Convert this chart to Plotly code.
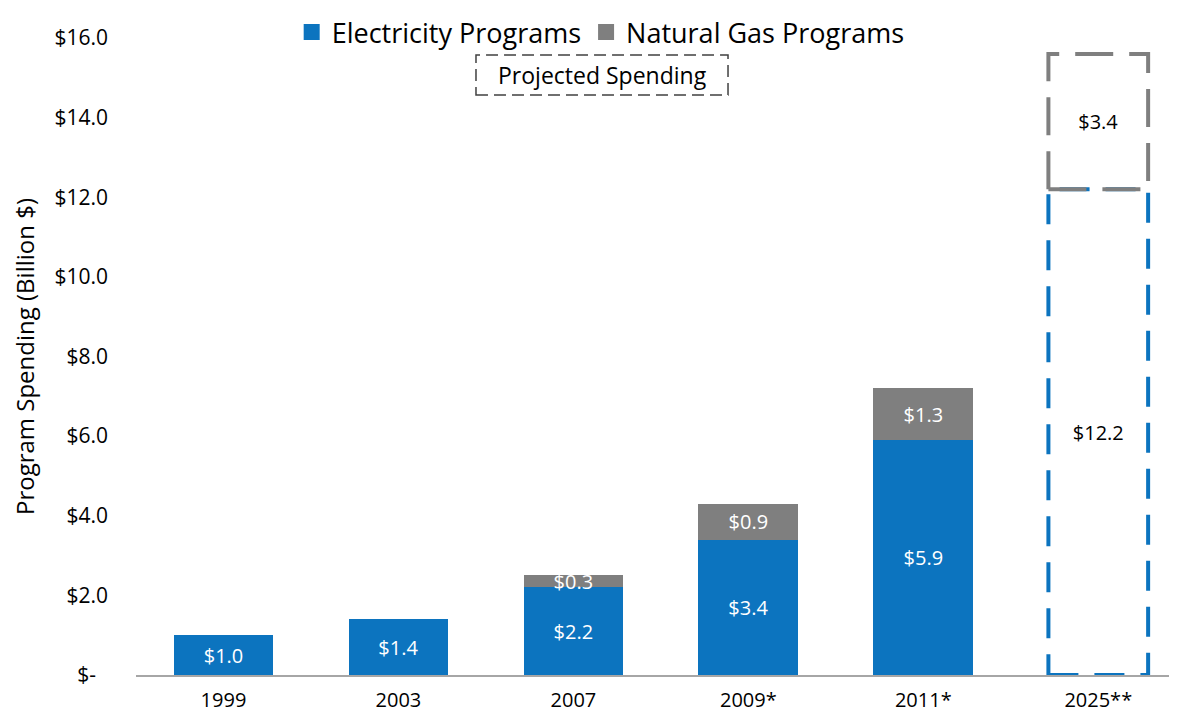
import plotly.graph_objects as go

categories = ["1999", "2003", "2007", "2009*", "2011*", "2025**"]
electricity = [1.0, 1.4, 2.2, 3.4, 5.9, 12.2]
natural_gas = [None, None, 0.3, 0.9, 1.3, 3.4]
projected = [False, False, False, False, False, True]
y_tick_vals = [0, 2, 4, 6, 8, 10, 12, 14, 16]
y_tick_text = ["$-<span style='color:rgba(0,0,0,0)'>0</span>", "$2.0", "$4.0", "$6.0",
               "$8.0", "$10.0", "$12.0", "$14.0", "$16.0"]

BLUE = "#0C74BF"
GRAY = "#7F7F7F"
FONT = "Open Sans"
BAR_W = 0.57

x = list(range(len(categories)))

def fill(color):
    return [("rgba(0,0,0,0)" if p else color) for p in projected]

def txtcol():
    return [("#000000" if p else "#FFFFFF") for p in projected]

def fmt(v):
    return "" if v is None else f"${v:.1f}"

fig = go.Figure()
fig.add_trace(go.Bar(
    x=x, y=electricity, name="Electricity Programs", width=BAR_W,
    marker=dict(color=fill(BLUE), line=dict(width=0)),
    text=[fmt(v) for v in electricity], textposition="inside",
    insidetextanchor="middle", constraintext="none",
    textfont=dict(color=txtcol(), size=20, family=FONT),
    hoverinfo="skip", showlegend=False,
))
fig.add_trace(go.Bar(
    x=x, y=natural_gas, name="Natural Gas Programs", width=BAR_W,
    marker=dict(color=fill(GRAY), line=dict(width=0)),
    text=[fmt(v) for v in natural_gas], textposition="inside",
    insidetextanchor="middle", constraintext="none",
    textfont=dict(color=txtcol(), size=20, family=FONT),
    hoverinfo="skip", showlegend=False,
))

# dashed outlines for projected bars, derived from the data
for i, p in enumerate(projected):
    if not p:
        continue
    e = electricity[i]
    g = natural_gas[i] or 0
    x0, x1 = i - BAR_W / 2, i + BAR_W / 2
    fig.add_trace(go.Scatter(
        x=[x0, x1, x1, x0, x0], y=[0, 0, e, e, 0], mode="lines",
        line=dict(color=BLUE, width=4, dash="30px,16px"),
        showlegend=False, hoverinfo="skip",
    ))
    fig.add_trace(go.Scatter(
        x=[x0, x1, x1, x0, x0], y=[e, e, e + g, e + g, e], mode="lines",
        line=dict(color=GRAY, width=4, dash="38px,16px"),
        showlegend=False, hoverinfo="skip",
    ))

# legend entries with larger square keys
for name, col in [("Electricity Programs", BLUE), ("Natural Gas Programs", GRAY)]:
    fig.add_trace(go.Scatter(
        x=[None], y=[None], mode="markers", name=name,
        marker=dict(symbol="square", size=16, color=col),
        showlegend=True, hoverinfo="skip",
    ))

# "Projected Spending" key box
bx0, bx1, by0, by1 = 0.3266, 0.5687, 0.9105, 0.9733
fig.add_shape(type="rect", xref="paper", yref="paper",
              x0=bx0, x1=bx1, y0=by0, y1=by1,
              line=dict(color="#404040", width=1.5, dash="12px,6px"))
fig.add_annotation(xref="paper", yref="paper", x=(bx0 + bx1) / 2,
                   y=(by0 + by1) / 2, xanchor="center", yanchor="middle",
                   text="Projected Spending", showarrow=False,
                   font=dict(size=23, color="#000000", family=FONT))

fig.update_layout(
    width=1169, height=707,
    margin=dict(l=128, r=0, t=30, b=40, autoexpand=False),
    paper_bgcolor="white", plot_bgcolor="white",
    barmode="stack",
    font=dict(family=FONT, color="#000000"),
    showlegend=True,
    legend=dict(orientation="h", xref="container", yref="container",
                x=0.507, xanchor="center", y=1.0, yanchor="top",
                traceorder="normal", borderwidth=0,
                font=dict(size=27, family=FONT), itemclick=False,
                bgcolor="rgba(0,0,0,0)"),
    xaxis=dict(range=[-0.5, 5.45], tickvals=x, ticktext=categories,
               showgrid=False, zeroline=False, showline=True,
               linecolor="#A6A6A6", linewidth=1.5, ticks="",
               tickfont=dict(size=20, family=FONT), ticklabelstandoff=6),
    yaxis=dict(range=[0, 16], tickvals=y_tick_vals, ticktext=y_tick_text,
               showgrid=False, zeroline=False, showline=False, ticks="",
               automargin=True,
               tickfont=dict(size=21, family=FONT), ticklabelstandoff=27,
               title=dict(text="Program Spending (Billion $)",
                          font=dict(size=24, family=FONT), standoff=21)),
)

fig.write_html("out.html")
